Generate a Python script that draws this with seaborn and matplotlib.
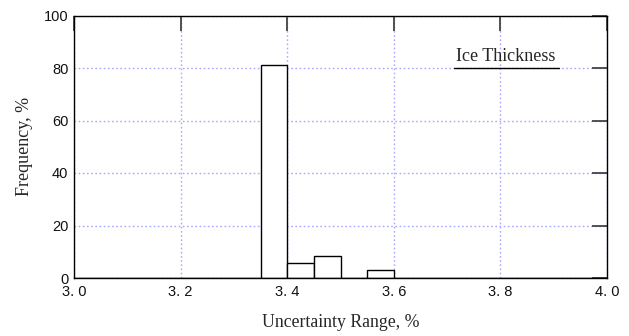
import numpy as np
import pandas as pd
import seaborn as sns
import matplotlib
matplotlib.use("Agg")
import matplotlib.pyplot as plt

bin_edges = [3.00, 3.05, 3.10, 3.15, 3.20, 3.25, 3.30, 3.35, 3.40, 3.45, 3.50, 3.55, 3.60,
             3.65, 3.70, 3.75, 3.80, 3.85, 3.90, 3.95, 4.00]
frequency = [0, 0, 0, 0, 0, 0, 0, 81.3, 5.8, 8.3, 0, 3.0, 0, 0, 0, 0, 0, 0, 0, 0]
x_ticks = [3.0, 3.2, 3.4, 3.6, 3.8, 4.0]
x_tick_labels = ["3. 0", "3. 2", "3. 4", "3. 6", "3. 8", "4. 0"]
y_ticks = [0, 20, 40, 60, 80, 100]
legend_label = "Ice Thickness"

centers = [(a + b) / 2 for a, b in zip(bin_edges[:-1], bin_edges[1:])]
df = pd.DataFrame({"x": centers, "w": frequency})

sns.set_style("white")
plt.rcParams['font.family'] = ['Liberation Sans', 'DejaVu Sans']

fig = plt.figure(figsize=(6.29, 3.36), dpi=100)
L, R, T, B = 74, 607, 15.5, 278
ax = fig.add_axes([L/629, 1 - B/336, (R-L)/629, (B-T)/336])

ax.grid(True, color="#a8a8ff", linestyle=(0, (1.2, 1.8)), linewidth=1.0)
ax.set_axisbelow(True)

sns.histplot(data=df, x="x", weights="w", bins=bin_edges, stat="count",
             fill=True, facecolor="white", edgecolor="black", linewidth=1.0,
             alpha=1, ax=ax, zorder=3)

ax.set_xlim(3.0, 4.0)
ax.set_ylim(0, 100)
ax.set_xticks(x_ticks)
ax.set_xticklabels(x_tick_labels)
ax.set_yticks(y_ticks)
ax.tick_params(direction="in", length=11, width=1.3, color="#444444",
               top=True, right=True, labelsize=10.5, colors="#111111")
ax.tick_params(axis="x", pad=5)
ax.tick_params(axis="y", pad=4)
for s in ax.spines.values():
    s.set_color("black")
    s.set_linewidth(1.0)
    s.set_visible(True)
    s.set_zorder(4)

ax.set_xlabel("Uncertainty Range, %", family="Liberation Serif", fontsize=12.8, labelpad=11)
ax.set_ylabel("Frequency, %", family="Liberation Serif", fontsize=13, labelpad=8)

ax.text(0.717, 0.826, legend_label, transform=ax.transAxes, family="Liberation Serif",
        fontsize=13, ha="left", va="baseline")
ax.plot([0.713, 0.910], [0.80, 0.80], transform=ax.transAxes, color="black",
        linewidth=1.0, zorder=5)

fig.savefig("out.png", dpi=100)
